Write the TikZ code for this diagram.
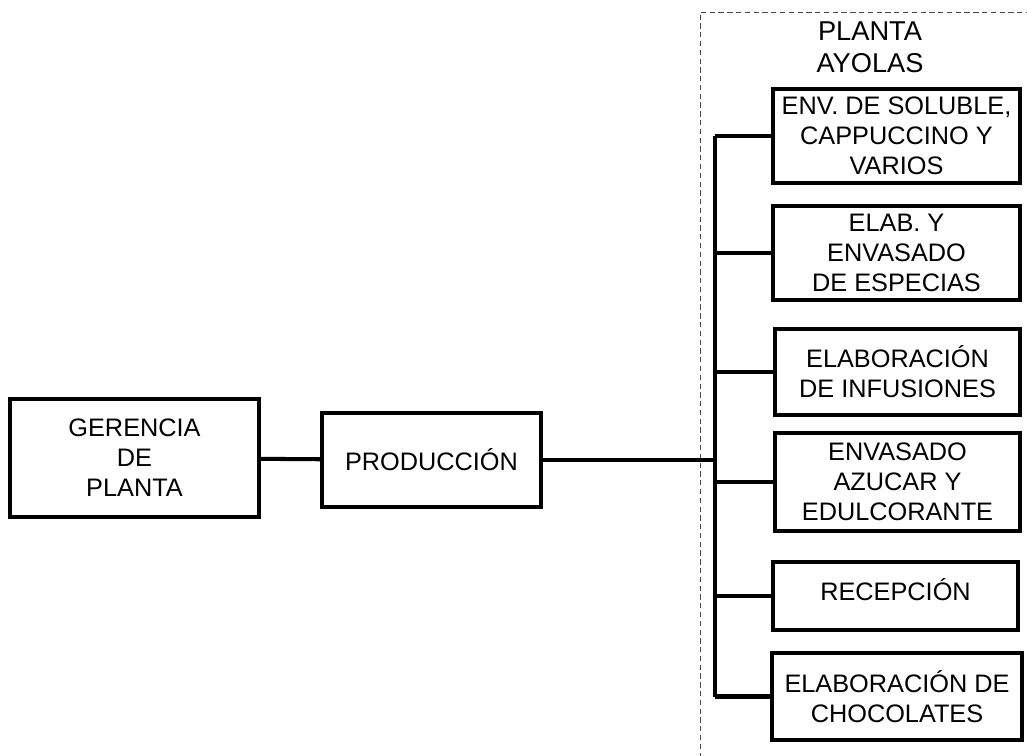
\documentclass[tikz,border=0pt]{standalone}
\usepackage{fontspec}
\setmainfont{Liberation Sans}
\begin{document}
\begin{tikzpicture}[x=0.02cm, y=-0.02cm, line width=2.3pt,
  unit box/.style={rectangle, draw, line width=2pt, align=center, inner sep=0pt,
    font=\fontsize{14.4}{17}\selectfont},
  frame line/.style={densely dashed, line width=0.5pt, black!70}]
\useasboundingbox (0,0) rectangle (1027,756);
% dashed frame of the plant
\draw [frame line] (1040,12) -- (700,12) -- (700,770);
\node [font=\fontsize{15.5}{18}\selectfont, align=center] (ayolas) at (870,47) {PLANTA\\AYOLAS};
\begin{scope}[every node/.style={unit box}]
\node (gerencia) at (134.5,458) [minimum width=4.98cm, minimum height=2.36cm] {GERENCIA\\DE\\PLANTA};
\node (produccion) at (431.5,460) [minimum width=4.38cm, minimum height=1.88cm] {PRODUCCIÓN};
\node (soluble) at (896.5,136) [minimum width=4.94cm, minimum height=1.88cm] {ENV. DE SOLUBLE,\\CAPPUCCINO Y\\VARIOS};
\node (especias) at (896.5,253) [minimum width=4.94cm, minimum height=1.88cm] {ELAB. Y\\ENVASADO\\DE ESPECIAS};
\node (infusiones) at (897.5,372) [minimum width=4.90cm, minimum height=1.72cm] {ELABORACIÓN\\DE INFUSIONES};
\node (azucar) at (897.5,482) [minimum width=4.90cm, minimum height=1.96cm] {ENVASADO\\AZUCAR Y\\EDULCORANTE};
\node (recepcion) at (895.5,596) [minimum width=4.90cm, minimum height=1.36cm, text depth=7pt] {RECEPCIÓN};
\node (chocolates) at (897,696.5) [minimum width=5.00cm, minimum height=1.74cm] {ELABORACIÓN DE\\CHOCOLATES};
\end{scope}
\coordinate (bus) at (715,460);
\path
	(gerencia) edge (produccion)
	(produccion) edge (bus)
	(bus |- soluble.west) edge (bus |- chocolates.west)
	(bus |- soluble.west) edge (soluble)
	(bus |- especias.west) edge (especias)
	(bus |- infusiones.west) edge (infusiones)
	(bus |- azucar.west) edge (azucar)
	(bus |- recepcion.west) edge (recepcion)
	(bus |- chocolates.west) edge (chocolates)
	;
\end{tikzpicture}
\end{document}
